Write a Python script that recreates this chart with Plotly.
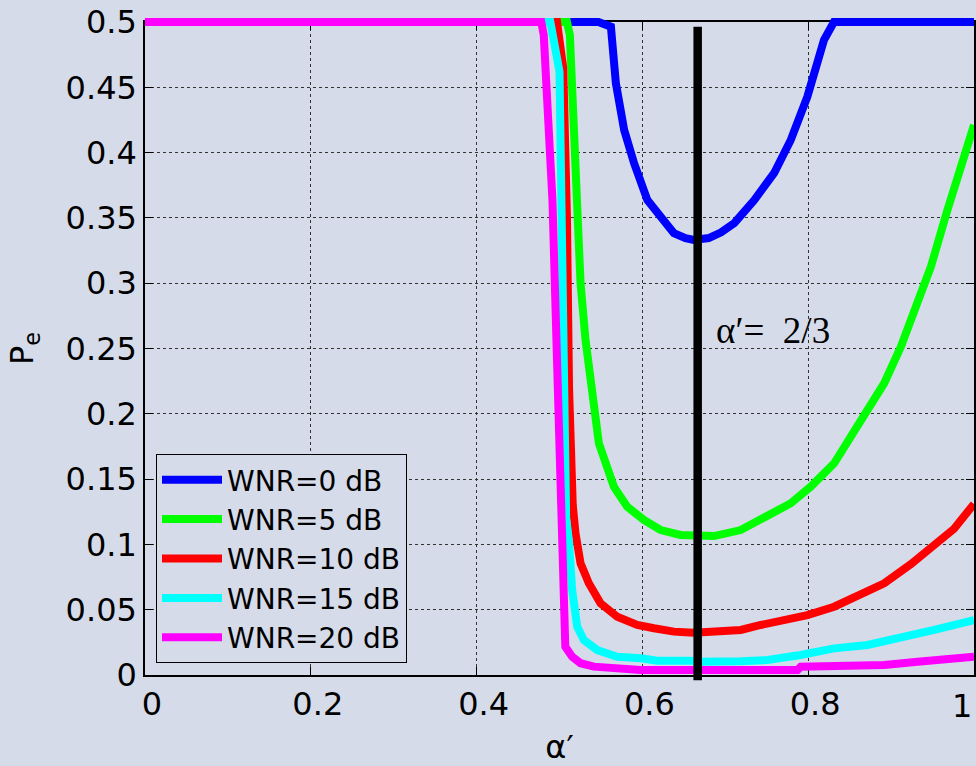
import plotly.graph_objects as go

# ---------------- data ----------------
series_names = ["WNR=0 dB", "WNR=5 dB", "WNR=10 dB", "WNR=15 dB", "WNR=20 dB"]
series_colors = ["#0000ff", "#00ff00", "#ff0000", "#00ffff", "#ff00ff"]

wnr0_x = [0, 0.547, 0.562, 0.568, 0.578, 0.590, 0.606, 0.622, 0.638, 0.652, 0.662,
          0.680, 0.695, 0.711, 0.735, 0.759, 0.779, 0.799, 0.819, 0.831, 1.0]
wnr0_y = [0.5, 0.5, 0.4964, 0.4531, 0.4173, 0.3918, 0.3637, 0.3509, 0.3382, 0.3345, 0.3331,
          0.3346, 0.3390, 0.3461, 0.3637, 0.3844, 0.4097, 0.4428, 0.4862, 0.5, 0.5]

wnr5_x = [0, 0.509, 0.5125, 0.521, 0.5254, 0.5314, 0.5395, 0.5475, 0.5656, 0.5817, 0.6018,
          0.622, 0.646, 0.670, 0.6864, 0.7186, 0.7508, 0.779, 0.803, 0.8313, 0.8514, 0.8716,
          0.8917, 0.9118, 0.928, 0.948, 0.968, 0.984, 1.0]
wnr5_y = [0.5, 0.5, 0.49, 0.356, 0.2999, 0.2565, 0.2106, 0.1774, 0.1442, 0.1289, 0.1187,
          0.1110, 0.1072, 0.1059, 0.1064, 0.1110, 0.1212, 0.1315, 0.1442, 0.1621, 0.1825, 0.2029,
          0.2234, 0.2514, 0.2770, 0.3126, 0.3561, 0.3892, 0.4211]

wnr10_x = [0, 0.497, 0.5045, 0.509, 0.5115, 0.5135, 0.516, 0.5193, 0.5254, 0.5354, 0.5495,
           0.5697, 0.5938, 0.614, 0.638, 0.662, 0.6864, 0.7186, 0.7428, 0.771, 0.799, 0.8313,
           0.8595, 0.8917, 0.924, 0.952, 0.976, 1.0]
wnr10_y = [0.5, 0.5, 0.465, 0.35, 0.22, 0.16, 0.13, 0.1085, 0.0855, 0.0702, 0.0549,
           0.0446, 0.0383, 0.0358, 0.0332, 0.0324, 0.0337, 0.0345, 0.0383, 0.0421, 0.0459, 0.0523,
           0.0599, 0.0702, 0.085, 0.099, 0.112, 0.131]

wnr15_x = [0, 0.489, 0.5, 0.502, 0.505, 0.508, 0.5112, 0.5153, 0.5214, 0.5294, 0.5455,
           0.5697, 0.598, 0.618, 0.658, 0.670, 0.7186, 0.7508, 0.791, 0.8313, 0.8716, 0.9118,
           0.952, 1.0]
wnr15_y = [0.5, 0.5, 0.462, 0.36, 0.22, 0.12, 0.1034, 0.0651, 0.037, 0.0268, 0.0191,
           0.014, 0.0128, 0.011, 0.011, 0.0102, 0.0105, 0.0115, 0.0153, 0.0204, 0.023, 0.0281,
           0.0345, 0.0421]

wnr20_x = [0, 0.478, 0.481, 0.4915, 0.4975, 0.503, 0.5045, 0.507, 0.5153, 0.5254, 0.5414,
           0.5737, 0.598, 0.7186, 0.787, 0.791, 0.8917, 0.932, 1.0]
wnr20_y = [0.5, 0.5, 0.49, 0.3637, 0.23, 0.1034, 0.07, 0.0217, 0.014, 0.009, 0.0064,
           0.0051, 0.0038, 0.0038, 0.0038, 0.0064, 0.0077, 0.0102, 0.014]

series_x = [wnr0_x, wnr5_x, wnr10_x, wnr15_x, wnr20_x]
series_y = [wnr0_y, wnr5_y, wnr10_y, wnr15_y, wnr20_y]

# vertical marker at alpha' = 2/3
vline_x = [2 / 3, 2 / 3]
vline_y = [-0.004, 0.4964]
vline_label = "α′=\u00a0\u00a02/3"

# x tick labels; the last one ("1") sits flush with the right frame edge
x_tickvals = [0, 0.2, 0.4, 0.6, 0.8, 1.0]
x_ticktext = ["0", "0.2", "0.4", "0.6", "0.8", ""]
x_last_value = 1.0
x_last_label = "1"
y_tickvals = [0, 0.05, 0.1, 0.15, 0.2, 0.25, 0.3, 0.35, 0.4, 0.45, 0.5]
y_ticktext = ["0", "0.05", "0.1", "0.15", "0.2", "0.25", "0.3", "0.35", "0.4", "0.45", "0.5"]

# ---------------- layout geometry ----------------
W, Hh = 976, 766
m_l, m_r, m_t, m_b = 145, 2, 12, 81
H = Hh - m_t - m_b            # height of paper area
pad = 10                      # extra room so lines are not clipped at the frame
inner = H - 2 * pad
yr = 0.5
ext = pad / inner * yr

BG = "#d5dbe9"
FONT = "DejaVu Sans"

fig = go.Figure()

for nm, col, xs, ys in zip(series_names, series_colors, series_x, series_y):
    fig.add_trace(go.Scatter(x=xs, y=ys, mode="lines", name=nm,
                             line=dict(color=col, width=8),
                             xaxis="x2", yaxis="y2"))

fig.add_trace(go.Scatter(x=vline_x, y=vline_y, mode="lines", showlegend=False,
                         line=dict(color="black", width=8.5),
                         xaxis="x2", yaxis="y2", hoverinfo="skip"))

axis_common = dict(showline=True, linecolor="black", linewidth=1.5, mirror="allticks",
                   ticks="inside", ticklen=8, tickcolor="black", tickwidth=1,
                   showgrid=True, gridcolor="#333333", griddash="dot", gridwidth=1,
                   zeroline=False, ticklabeloverflow="allow", automargin=False,
                   tickfont=dict(family=FONT, size=32, color="black"))

fig.update_layout(
    width=W, height=Hh,
    margin=dict(l=m_l, r=m_r, t=m_t, b=m_b),
    paper_bgcolor=BG, plot_bgcolor="rgba(0,0,0,0)",
    showlegend=True,
    xaxis=dict(range=[0, 1], domain=[0, 1], tickvals=x_tickvals, ticktext=x_ticktext,
               ticklabelshift=7,
               title=dict(text="α′", font=dict(family=FONT, size=32, color="black"), standoff=16),
               anchor="y", **axis_common),
    yaxis=dict(range=[0, yr], domain=[pad / H, 1 - pad / H], tickvals=y_tickvals,
               ticktext=y_ticktext,
               title=dict(text="P<sub>e</sub>", font=dict(family=FONT, size=32, color="black"),
                          standoff=22),
               anchor="x", **axis_common),
    xaxis2=dict(range=[0, 1], domain=[0, 1], visible=False, anchor="y2", automargin=False),
    yaxis2=dict(range=[-ext, yr + ext], domain=[0, 1], visible=False, anchor="x2",
                automargin=False),
    legend=dict(x=(156 - m_l) / (W - m_l - m_r), y=(Hh - m_b - 663) / H,
                xanchor="left", yanchor="bottom",
                bgcolor=BG, bordercolor="black", borderwidth=1,
                font=dict(family=FONT, size=28, color="black"),
                itemwidth=60, tracegroupgap=0),
    annotations=[
        dict(x=0.686, y=0.264, xref="x", yref="y", text=vline_label,
             showarrow=False, xanchor="left", yanchor="middle",
             font=dict(family="Liberation Serif", size=37, color="black")),
        dict(x=x_last_value, y=0, xref="x", yref="y", text=x_last_label,
             showarrow=False, xanchor="right", yanchor="top", yshift=-10,
             font=dict(family=FONT, size=32, color="black")),
    ],
)

fig.write_html("out.html")
